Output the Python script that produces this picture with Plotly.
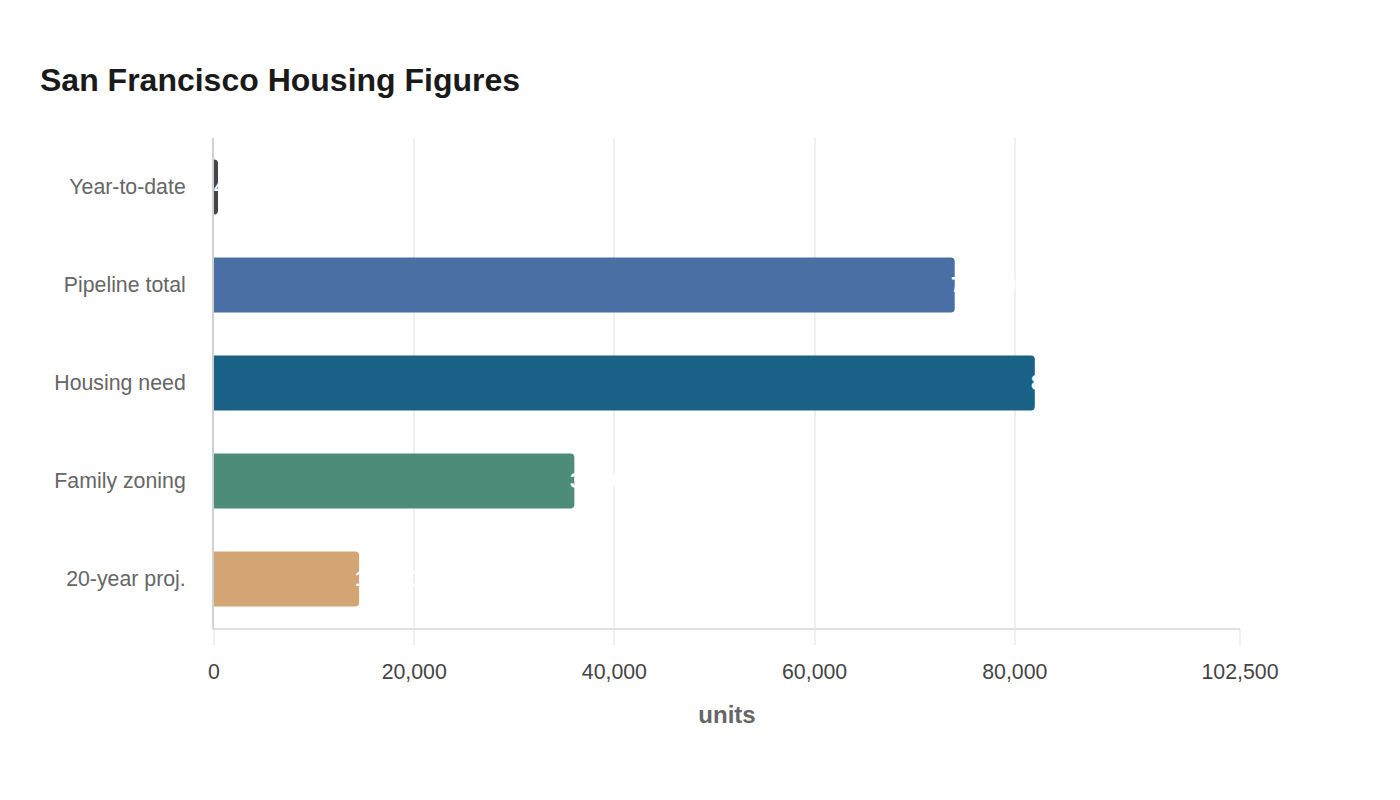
import plotly.graph_objects as go

categories = ["Year-to-date", "Pipeline total", "Housing need", "Family zoning", "20-year proj."]
values = [400, 74000, 82000, 36000, 14500]
colors = ["#454545", "#4a6fa5", "#1a6188", "#4e8c7a", "#d4a574"]
tick_vals = [0, 20000, 40000, 60000, 80000, 102500]
tick_text = ["0", "20,000", "40,000", "60,000", "80,000", "102,500"]

FONT = "Liberation Sans, Arial, sans-serif"

fig = go.Figure(go.Bar(
    x=values, y=categories, orientation="h",
    marker=dict(color=colors, cornerradius=4, line=dict(width=0)),
    hoverinfo="skip",
))

# value labels (white) anchored at bar ends
for cat, v in zip(categories, values):
    fig.add_annotation(
        x=v, y=cat, xref="x", yref="y", text=f"<b>{v:,}</b>",
        showarrow=False, xanchor="left", yanchor="middle", xshift=-6,
        font=dict(color="white", size=21.3, family=FONT),
    )

fig.update_layout(
    width=1400, height=800,
    margin=dict(l=214, r=160, t=138, b=172),
    paper_bgcolor="white", plot_bgcolor="white",
    font=dict(family=FONT, size=21.3, color="#444"),
    title=dict(text="<b>San Francisco Housing Figures</b>", x=40/1400, xanchor="left",
               y=1-80/800, yanchor="middle",
               font=dict(size=32, color="#1a1a1a")),
    bargap=0.44,
    showlegend=False,
)
fig.update_xaxes(
    range=[0, 102500], tickvals=tick_vals, ticktext=tick_text,
    showgrid=True, gridcolor="#f0f0f0", gridwidth=2,
    showline=True, linecolor="#e0e0e0", linewidth=2,
    zeroline=False, ticks="outside", ticklen=15, tickwidth=2, tickcolor="#f0f0f0",
    ticklabelstandoff=8,
    tickfont=dict(size=21.3, color="#444"),
    title=dict(text="<b>units</b>", font=dict(size=24, color="#666"), standoff=24),
)
fig.update_yaxes(
    autorange="reversed", showgrid=False,
    showline=True, linecolor="#d0d0d0", linewidth=2,
    ticks="", ticklabelstandoff=22,
    tickfont=dict(size=21.3, color="#666"),
)

fig.write_html("out.html")
